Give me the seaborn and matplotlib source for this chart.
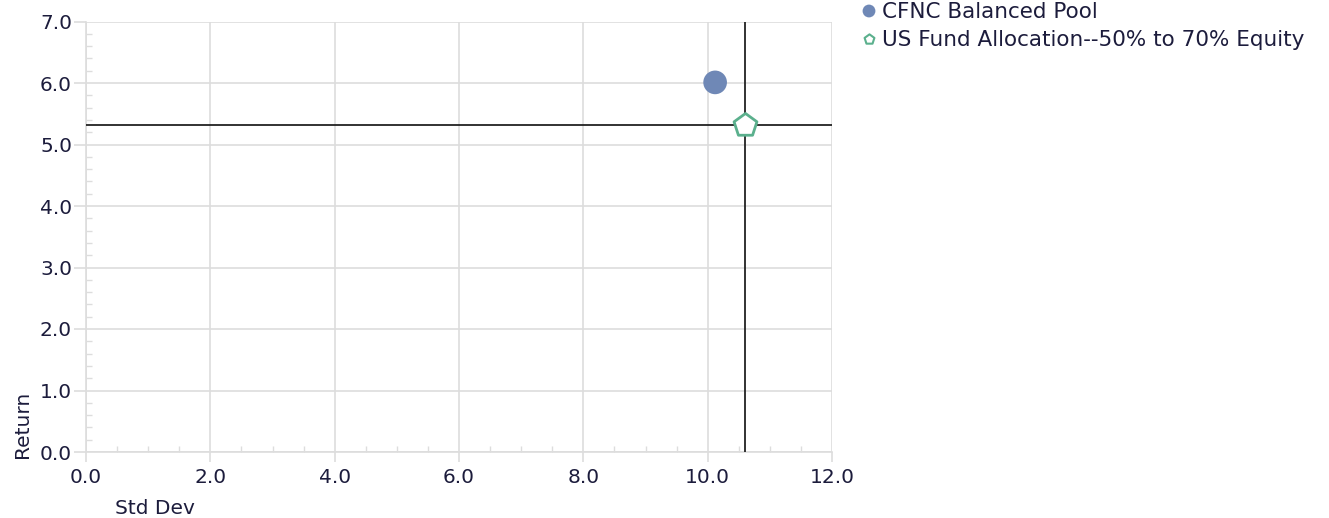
import matplotlib
matplotlib.use("Agg")
import matplotlib.pyplot as plt
import seaborn as sns
import pandas as pd
from matplotlib.ticker import MultipleLocator, FormatStrFormatter

names = ["CFNC Balanced Pool", "US Fund Allocation--50% to 70% Equity"]
std_dev = [10.12, 10.6]
returns = [6.01, 5.32]
bench_x = 10.6
bench_y = 5.32

sns.set_theme(style="white")
plt.rcParams['font.family'] = ['DejaVu Sans']

fig = plt.figure(figsize=(13.29, 5.18), dpi=100)
ax = fig.add_axes([86/1329, 66/518, 746/1329, 430.5/518])

df = pd.DataFrame({"name": names, "sd": std_dev, "ret": returns})
tc = "#1c1c3c"
fs = 14.5
lfs = 15.5

ax.axhline(bench_y, color="#222222", lw=1.3, zorder=3)
ax.axvline(bench_x, color="#222222", lw=1.3, zorder=3)

sns.scatterplot(data=df.iloc[[0]], x="sd", y="ret", ax=ax, marker="o", s=290,
                color="#6f88b6", edgecolor="none", zorder=4, legend=False, clip_on=False)
sns.scatterplot(data=df.iloc[[1]], x="sd", y="ret", ax=ax, marker="p", s=300,
                facecolor="white", edgecolor="#5bb08d", linewidth=2, zorder=5, legend=False, clip_on=False)

ax.set_xlim(0, 12)
ax.set_ylim(0, 7)
ax.xaxis.set_major_locator(MultipleLocator(2))
ax.xaxis.set_minor_locator(MultipleLocator(0.5))
ax.yaxis.set_major_locator(MultipleLocator(1))
ax.yaxis.set_minor_locator(MultipleLocator(0.2))
ax.xaxis.set_major_formatter(FormatStrFormatter("%.1f"))
ax.yaxis.set_major_formatter(FormatStrFormatter("%.1f"))
ax.grid(True, which="major", color="#dddddd", lw=1.2)
for s in ["top", "right"]:
    ax.spines[s].set_visible(False)
for s in ["left", "bottom"]:
    ax.spines[s].set_color("#dddddd")
    ax.spines[s].set_linewidth(1.2)
ax.tick_params(axis="y", which="major", left=True, length=9, color="#dddddd", width=1.2,
               direction="out", labelsize=fs, labelcolor=tc, pad=1)
ax.tick_params(axis="x", which="major", bottom=True, length=7.5, color="#dddddd", width=1.2,
               direction="out", labelsize=fs, labelcolor=tc, pad=4)
ax.tick_params(which="minor", length=4.5, color="#dddddd", width=1.0, direction="in")
ax.tick_params(axis="y", which="minor", left=True)
ax.tick_params(axis="x", which="minor", bottom=True)

ax.set_xlabel("")
ax.set_ylabel("")
fig.text(115/1329, 1 - 508/518, "Std Dev", fontsize=fs, color=tc, va="center", ha="left")
fig.text(22/1329, 1 - 458/518, "Return", fontsize=fs, color=tc, va="bottom", ha="center", rotation=90)

# legend
fig.text(882/1329, 1 - 12/518, names[0], fontsize=lfs, color=tc, va="center", ha="left")
fig.text(882/1329, 1 - 40/518, names[1], fontsize=lfs, color=tc, va="center", ha="left")
lax = fig.add_axes([0, 0, 1, 1], facecolor="none")
lax.set_xlim(0, 1329)
lax.set_ylim(518, 0)
lax.axis("off")
lax.scatter([869], [11], s=85, marker="o", color="#6f88b6", edgecolor="none")
lax.scatter([869], [39], s=55, marker="p", facecolor="white", edgecolor="#5bb08d", linewidth=1.5)

fig.savefig("out.png", dpi=100)
